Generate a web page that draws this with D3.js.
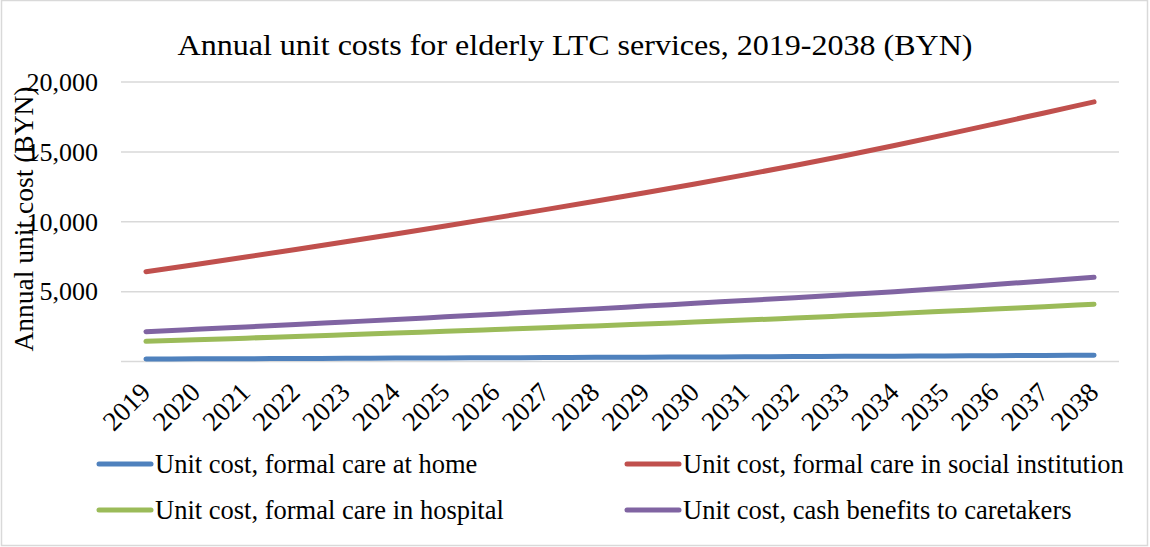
<!DOCTYPE html>
<html>
<head>
<meta charset="utf-8">
<script src="https://cdn.jsdelivr.net/npm/d3@7"></script>
<style>
  html, body { margin: 0; padding: 0; background: #fff; }
  svg text { font-family: "Liberation Serif", "Times New Roman", serif; fill: #000; }
</style>
</head>
<body>
<svg id="chart" width="1150" height="547"></svg>
<script>
// Years on the category axis
const years = [2019, 2020, 2021, 2022, 2023, 2024, 2025, 2026, 2027, 2028,
               2029, 2030, 2031, 2032, 2033, 2034, 2035, 2036, 2037, 2038];

// Annual unit costs (BYN) per service type
const homeCare = [143, 155, 167, 180, 193, 206, 220, 234, 247, 260,
                  273, 287, 301, 316, 332, 348, 365, 383, 401, 420];
const institutionCare = [6390, 6910, 7440, 7980, 8530, 9090, 9660, 10240, 10830, 11430,
                         12040, 12670, 13320, 13990, 14690, 15420, 16180, 16960, 17750, 18540];
const hospitalCare = [1405, 1520, 1635, 1755, 1875, 2000, 2125, 2250, 2380, 2510,
                      2645, 2785, 2925, 3075, 3230, 3390, 3555, 3725, 3890, 4060];
const cashBenefits = [2100, 2265, 2435, 2610, 2790, 2970, 3160, 3350, 3540, 3730,
                      3930, 4130, 4330, 4530, 4740, 4960, 5210, 5470, 5730, 5990];

const seriesNames = [
  "Unit cost, formal care at home",
  "Unit cost, formal care in social institution",
  "Unit cost, formal care in hospital",
  "Unit cost, cash benefits to caretakers"
];
const yTicks = [5000, 10000, 15000, 20000];

const series = [
  { name: seriesNames[0], values: homeCare, color: "#4F81BD" },
  { name: seriesNames[1], values: institutionCare, color: "#C0504D" },
  { name: seriesNames[2], values: hospitalCare, color: "#9BBB59" },
  { name: seriesNames[3], values: cashBenefits, color: "#8064A2" }
];

const svg = d3.select("#chart");
const W = 1150, H = 547;
const plot = { left: 121, right: 1119, top: 81.5, bottom: 361 };
const serif = '"Liberation Serif", "Times New Roman", serif';

// Outer chart frame
svg.append("rect")
  .attr("x", 1.5).attr("y", 0.5)
  .attr("width", W - 4).attr("height", H - 2)
  .attr("fill", "#fff").attr("stroke", "#D9D9D9").attr("stroke-width", 1.5);

const x = d3.scaleBand().domain(years).range([plot.left, plot.right]);
const y = d3.scaleLinear().domain([0, 20000]).range([plot.bottom, plot.top]);
const xc = d => x(d) + x.bandwidth() / 2;

// Horizontal gridlines (including the zero baseline)
const yAxis = d3.axisLeft(y)
  .tickValues([0].concat(yTicks))
  .tickSize(-(plot.right - plot.left))
  .tickFormat(d => d === 0 ? "" : d3.format(",")(d));
const gy = svg.append("g")
  .attr("transform", `translate(${plot.left},0)`)
  .call(yAxis);
gy.select(".domain").remove();
gy.selectAll(".tick line").attr("stroke", "#D9D9D9").attr("stroke-width", 1.5);
gy.selectAll(".tick text")
  .attr("x", -23)
  .attr("dy", "0.34em")
  .style("font-size", "26px")
  .style("font-family", serif)
  .attr("fill", "#000");

// Category labels, rotated
const xAxis = d3.axisBottom(x).tickSize(0).tickFormat(d => String(d));
const gx = svg.append("g")
  .attr("transform", `translate(0,${plot.bottom})`)
  .call(xAxis);
gx.select(".domain").remove();
gx.selectAll(".tick text")
  .attr("x", 0).attr("y", 0).attr("dy", 0)
  .attr("text-anchor", "end")
  .attr("transform", "translate(6,33) rotate(-45)")
  .style("font-size", "27px")
  .style("font-family", serif)
  .attr("fill", "#000");

// Series lines
const line = d3.line()
  .x((d, i) => xc(years[i]))
  .y(d => y(d))
  .curve(d3.curveMonotoneX);

svg.append("g").selectAll("path")
  .data(series)
  .join("path")
  .attr("d", s => line(s.values))
  .attr("fill", "none")
  .attr("stroke", s => s.color)
  .attr("stroke-width", 5)
  .attr("stroke-linecap", "round")
  .attr("stroke-linejoin", "round");

// Title
svg.append("text")
  .attr("x", 575).attr("y", 55)
  .attr("text-anchor", "middle")
  .attr("textLength", 795)
  .attr("lengthAdjust", "spacingAndGlyphs")
  .style("font-size", "29px")
  .text("Annual unit costs for elderly LTC services, 2019-2038 (BYN)");

// Y axis title
svg.append("text")
  .attr("transform", "translate(33,219) rotate(-90)")
  .attr("text-anchor", "middle")
  .style("font-size", "27.5px")
  .text("Annual unit cost (BYN)");

// Legend: two columns, two rows
const legendPos = [
  { x: 97, y: 464 }, { x: 625, y: 464 },
  { x: 97, y: 510 }, { x: 625, y: 510 }
];
const lg = svg.append("g").selectAll("g")
  .data(series)
  .join("g")
  .attr("transform", (s, i) => `translate(${legendPos[i].x},${legendPos[i].y})`);
lg.append("line")
  .attr("x1", 2).attr("x2", 54).attr("y1", 0).attr("y2", 0)
  .attr("stroke", s => s.color)
  .attr("stroke-width", 5)
  .attr("stroke-linecap", "round");
lg.append("text")
  .attr("x", 58).attr("y", 0).attr("dy", "0.33em")
  .style("font-size", "26.5px")
  .text(s => s.name);
</script>
</body>
</html>
